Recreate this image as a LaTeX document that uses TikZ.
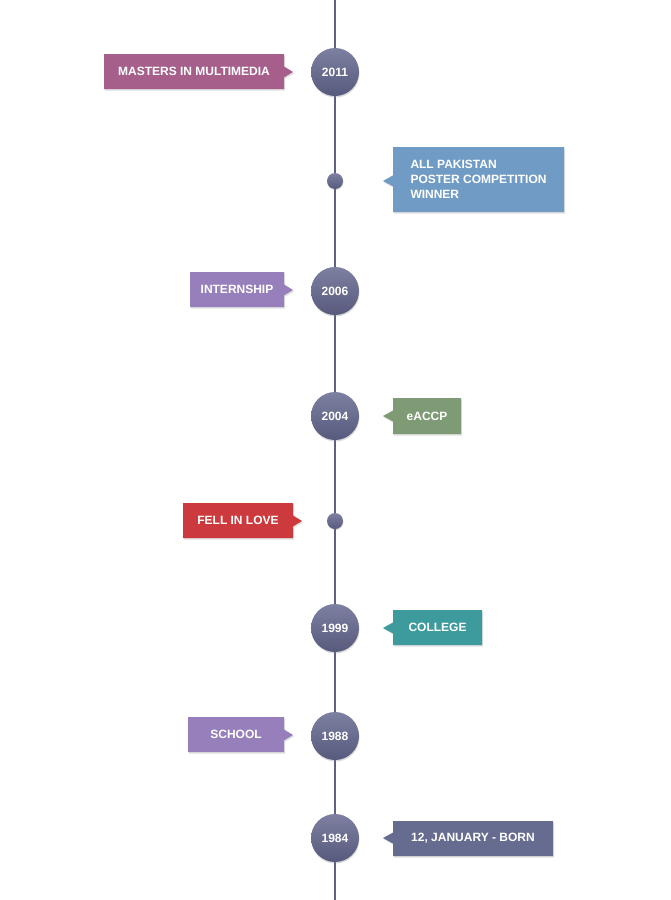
\documentclass[tikz,border=0pt]{standalone}
\usepackage{fontspec}
\setmainfont{Liberation Sans}
\usetikzlibrary{shapes.callouts, shadows, positioning}
\definecolor{linec}{HTML}{5F6085}
\definecolor{topc}{HTML}{7D80A1}
\definecolor{botc}{HTML}{575A7C}
\definecolor{plum}{HTML}{A65F8B}
\definecolor{sky}{HTML}{709BC5}
\definecolor{lav}{HTML}{967FBB}
\definecolor{moss}{HTML}{7E9B75}
\definecolor{brick}{HTML}{CD3A3E}
\definecolor{teal2}{HTML}{3D9A9D}
\definecolor{slate}{HTML}{666C8F}
\tikzstyle{year}=[circle, minimum size=48pt, inner sep=0pt, top color=topc, bottom color=botc, text=white, font=\fontsize{12}{14}\bfseries, drop shadow={opacity=0.3, shadow xshift=0.5pt, shadow yshift=-1.5pt}]
\tikzstyle{dot}=[circle, minimum size=16pt, inner sep=0pt, top color=topc, bottom color=botc, drop shadow={opacity=0.3, shadow xshift=0.5pt, shadow yshift=-1pt}]
\tikzstyle{event}=[rectangle callout, callout pointer width=11pt, minimum height=35pt, inner sep=0pt, text=white, font=\fontsize{12}{14}\bfseries, drop shadow={opacity=0.25, shadow xshift=1pt, shadow yshift=-1.5pt}]
\begin{document}
\begin{tikzpicture}[x=1pt, y=-1pt]
\useasboundingbox (0,0) rectangle (670,900);
\coordinate (top) at (335,0); \coordinate (bot) at (335,900);
\draw [linec, line width=2.6pt] (top) -- (bot);
\node [year] (2011) at (335,72) {2011};
\node [dot] (d1) at (335,181) {};
\node [year] (2006) at (335,291) {2006};
\node [year] (2004) at (335,416) {2004};
\node [dot] (d2) at (335,521) {};
\node [year] (1999) at (335,628) {1999};
\node [year] (1988) at (335,736) {1988};
\node [year] (1984) at (335,838) {1984};
% events, left side
\node [event, fill=plum, minimum width=180pt, callout absolute pointer={(293,72)}] (masters) at (194,71.5) {MASTERS IN MULTIMEDIA};
\node [event, fill=lav, minimum width=94pt, callout absolute pointer={(293,290)}] (intern) at (237,289.5) {INTERNSHIP};
\node [event, fill=brick, minimum width=110pt, callout absolute pointer={(302,521)}] (love) at (238,520.5) {FELL IN LOVE};
\node [event, fill=lav, minimum width=96pt, callout absolute pointer={(293,735)}] (school) at (236,734.5) {SCHOOL};
% events, right side
\node [event, fill=sky, minimum width=171pt, minimum height=65pt, align=left, callout absolute pointer={(383,181)}, font=\fontsize{12}{15}\bfseries] (poster) at (478.5,179.5) {ALL PAKISTAN\\POSTER COMPETITION\\WINNER};
\node [event, fill=moss, minimum width=68pt, minimum height=36pt, callout absolute pointer={(383,416)}] (eaccp) at (427,416) {eACCP};
\node [event, fill=teal2, minimum width=89pt, callout absolute pointer={(383,628)}] (college) at (437.5,627.5) {COLLEGE};
\node [event, fill=slate, minimum width=160pt, callout absolute pointer={(383,838)}] (born) at (473,838.5) {12, JANUARY - BORN};
\end{tikzpicture}
\end{document}
